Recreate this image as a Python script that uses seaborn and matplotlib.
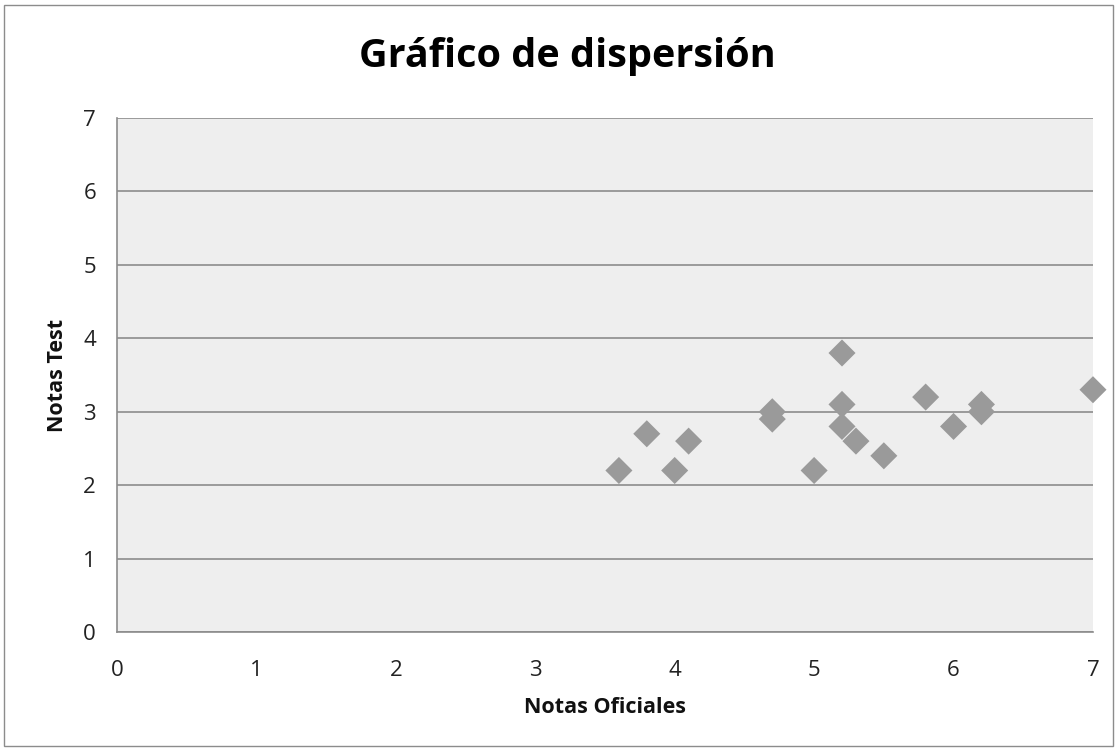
import matplotlib
matplotlib.use("Agg")
import matplotlib.pyplot as plt
import seaborn as sns
import pandas as pd
from matplotlib.patches import Rectangle

notas_oficiales = [3.6, 3.8, 4.0, 4.1, 4.7, 4.7, 5.0, 5.2, 5.2, 5.2, 5.3, 5.5, 5.8, 6.0, 6.2, 6.2, 7.0]
notas_test = [2.2, 2.7, 2.2, 2.6, 3.0, 2.9, 2.2, 3.8, 3.1, 2.8, 2.6, 2.4, 3.2, 2.8, 3.1, 3.0, 3.3]
ticks = [0, 1, 2, 3, 4, 5, 6, 7]

df = pd.DataFrame({"Notas Oficiales": notas_oficiales, "Notas Test": notas_test})

sns.set_theme(style="white")
plt.rcParams['font.family'] = ['Open Sans', 'DejaVu Sans']

fig = plt.figure(figsize=(11.17, 7.5), dpi=100)
ax = fig.add_axes([0.1047, 0.1573, 0.8738, 0.6853])
ax.set_facecolor("#eeeeee")

sns.scatterplot(data=df, x="Notas Oficiales", y="Notas Test", marker="D", s=190,
                color="#9a9a9a", edgecolor="none", ax=ax, zorder=3, clip_on=False)

ax.set_xlim(0, 7)
ax.set_ylim(0, 7)
ax.set_xticks(ticks)
ax.set_yticks(ticks)
ax.yaxis.grid(True, color="#8c8c8c", linewidth=1.2)
ax.xaxis.grid(False)
ax.set_axisbelow(True)
for s in ["top", "right"]:
    ax.spines[s].set_visible(False)
for s in ["left", "bottom"]:
    ax.spines[s].set_color("#8c8c8c")
    ax.spines[s].set_linewidth(1.2)
ax.tick_params(axis="both", length=0, labelsize=16, colors="#222222")
ax.tick_params(axis="x", pad=20)
ax.tick_params(axis="y", pad=15)

ax.set_xlabel("Notas Oficiales", fontsize=15.5, fontweight="bold", labelpad=12, color="#111111")
ax.set_ylabel("Notas Test", fontsize=15.5, fontweight="bold", labelpad=11, color="#111111")
fig.suptitle("Gráfico de dispersión", fontsize=28.5, fontweight="bold", x=0.508, y=0.924,
             va="center", color="#000000")

fig.patches.append(Rectangle((0.004, 0.006), 0.992, 0.988, transform=fig.transFigure,
                             fill=False, edgecolor="#8c8c8c", linewidth=1))

fig.savefig("out.png", dpi=100)
